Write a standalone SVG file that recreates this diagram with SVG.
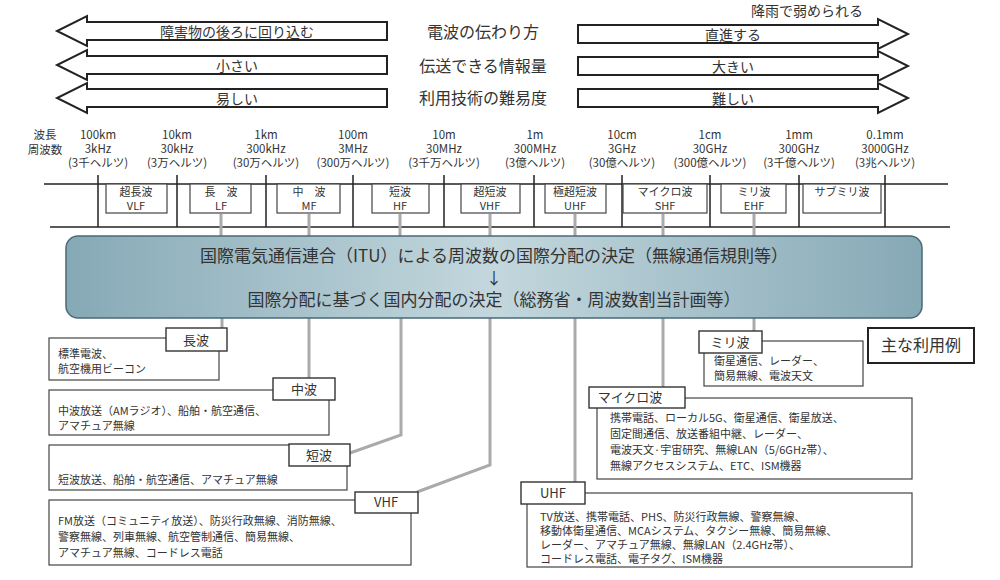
<svg xmlns="http://www.w3.org/2000/svg" width="1000" height="580" viewBox="0 0 1000 580">
<style>
text{font-family:"Noto Sans CJK JP","Noto Sans",sans-serif;fill:#333}
.arr{fill:#fff;stroke:#222;stroke-width:2}
.ah{font-size:14px;text-anchor:middle}
.ttl{font-size:16px;text-anchor:middle}
.big{font-size:17px;text-anchor:middle}
.sc{font-size:11.5px;text-anchor:middle}
.bd{fill:#fff;stroke:#444;stroke-width:1.2}
.bt{font-size:11px;text-anchor:middle}
.lb{fill:#fff;stroke:#333;stroke-width:1.4}
.lt{font-size:13px;text-anchor:middle}
.ct{font-size:11px}
.ln{stroke:#222;stroke-width:1.5;fill:none}
.gc{stroke:#aaa;stroke-width:3;fill:none}
</style>
<defs>
<linearGradient id="g" x1="0" x2="1" y1="0" y2="0">
<stop offset="0" stop-color="#86a9b6"/><stop offset="0.5" stop-color="#c3d7dd"/><stop offset="1" stop-color="#86a9b6"/>
</linearGradient>
</defs>
<g id="top-arrows">
<polygon class="arr" points="387,22 87,22 87,16 57,31 87,46 87,40 387,40"/>
<polygon class="arr" points="387,56 87,56 87,50 57,65 87,80 87,74 387,74"/>
<polygon class="arr" points="387,89 87,89 87,83 57,98 87,113 87,107 387,107"/>
<polygon class="arr" points="578,25 878,25 878,19 908,34 878,49 878,43 578,43"/>
<polygon class="arr" points="578,57 878,57 878,51 908,66 878,81 878,75 578,75"/>
<polygon class="arr" points="578,89 878,89 878,83 908,98 878,113 878,107 578,107"/>
<text class="ah" x="237" y="37">障害物の後ろに回り込む</text>
<text class="ah" x="237" y="71">小さい</text>
<text class="ah" x="237" y="104">易しい</text>
<text class="ah" x="733" y="40">直進する</text>
<text class="ah" x="733" y="72">大きい</text>
<text class="ah" x="733" y="104">難しい</text>
<text class="ah" x="807" y="16">降雨で弱められる</text>
<text class="ttl" x="483" y="38">電波の伝わり方</text>
<text class="ttl" x="483" y="72">伝送できる情報量</text>
<text class="ttl" x="483" y="104">利用技術の難易度</text>
</g>
<g id="scale">
<text class="sc" x="45" y="139">波長</text>
<text class="sc" x="45" y="154">周波数</text>
<text class="sc" x="98" y="139">100km</text><text class="sc" x="98" y="153">3kHz</text><text class="sc" x="98" y="167">(3千ヘルツ)</text>
<text class="sc" x="177" y="139">10km</text><text class="sc" x="177" y="153">30kHz</text><text class="sc" x="177" y="167">(3万ヘルツ)</text>
<text class="sc" x="266" y="139">1km</text><text class="sc" x="266" y="153">300kHz</text><text class="sc" x="266" y="167">(30万ヘルツ)</text>
<text class="sc" x="353" y="139">100m</text><text class="sc" x="353" y="153">3MHz</text><text class="sc" x="353" y="167">(300万ヘルツ)</text>
<text class="sc" x="444" y="139">10m</text><text class="sc" x="444" y="153">30MHz</text><text class="sc" x="444" y="167">(3千万ヘルツ)</text>
<text class="sc" x="535" y="139">1m</text><text class="sc" x="535" y="153">300MHz</text><text class="sc" x="535" y="167">(3億ヘルツ)</text>
<text class="sc" x="622" y="139">10cm</text><text class="sc" x="622" y="153">3GHz</text><text class="sc" x="622" y="167">(30億ヘルツ)</text>
<text class="sc" x="710" y="139">1cm</text><text class="sc" x="710" y="153">30GHz</text><text class="sc" x="710" y="167">(300億ヘルツ)</text>
<text class="sc" x="799" y="139">1mm</text><text class="sc" x="799" y="153">300GHz</text><text class="sc" x="799" y="167">(3千億ヘルツ)</text>
<text class="sc" x="885" y="139">0.1mm</text><text class="sc" x="885" y="153">3000GHz</text><text class="sc" x="885" y="167">(3兆ヘルツ)</text>
<line class="ln" x1="44" y1="184" x2="948" y2="184"/>
<line class="ln" x1="50" y1="227" x2="950" y2="227"/>
<path class="ln" d="M98 175V227M177 175V227M266 175V227M353 175V227M444 175V227M534 175V227M622 175V227M710 175V227M799 175V227M885 175V227"/>
</g>
<g id="bands">
<rect class="bd" x="106" y="184" width="61" height="29"/><text class="bt" x="136" y="196">超長波</text><text class="bt" x="136" y="210">VLF</text>
<rect class="bd" x="190" y="184" width="61" height="29"/><text class="bt" x="221" y="196">長　波</text><text class="bt" x="221" y="210">LF</text>
<rect class="bd" x="277" y="184" width="63" height="29"/><text class="bt" x="309" y="196">中　波</text><text class="bt" x="309" y="210">MF</text>
<rect class="bd" x="372" y="184" width="57" height="29"/><text class="bt" x="400" y="196">短波</text><text class="bt" x="400" y="210">HF</text>
<rect class="bd" x="461" y="184" width="59" height="29"/><text class="bt" x="490" y="196">超短波</text><text class="bt" x="490" y="210">VHF</text>
<rect class="bd" x="545" y="184" width="61" height="29"/><text class="bt" x="575" y="196">極超短波</text><text class="bt" x="575" y="210">UHF</text>
<rect class="bd" x="623" y="184" width="84" height="29"/><text class="bt" x="665" y="196">マイクロ波</text><text class="bt" x="665" y="210">SHF</text>
<rect class="bd" x="721" y="184" width="65" height="29"/><text class="bt" x="754" y="196">ミリ波</text><text class="bt" x="754" y="210">EHF</text>
<rect class="bd" x="803" y="184" width="78" height="29"/><text class="bt" x="842" y="196">サブミリ波</text>
</g>
<g id="connectors">
<path class="gc" d="M221 214V236M309 214V236M400 214V236M490 214V236M575 214V236M663 214V236M754 214V236"/>
<path class="gc" d="M222 318V328"/>
<path class="gc" d="M309 318V378"/>
<path class="gc" d="M401 318V435L350 453"/>
<path class="gc" d="M490 318V465L417 492"/>
<path class="gc" d="M575 318V482"/>
<path class="gc" d="M663 318V387"/>
<path class="gc" d="M754 318V331"/>
</g>
<g id="itu">
<rect x="66" y="236" width="856" height="82" rx="12" fill="url(#g)" stroke="#4a6a76" stroke-width="1.5"/>
<text class="big" x="494" y="262">国際電気通信連合（ITU）による周波数の国際分配の決定（無線通信規則等）</text>
<text class="ttl" x="494" y="284" font-size="12px">↓</text>
<text class="big" x="494" y="306">国際分配に基づく国内分配の決定（総務省・周波数割当計画等）</text>
</g>
<g id="lf">
<rect class="bd" x="49" y="338" width="170" height="42"/>
<rect class="lb" x="166" y="328" width="61" height="23"/><text class="lt" x="196" y="345">長波</text>
<text class="ct" x="58" y="358">標準電波、</text><text class="ct" x="58" y="373">航空機用ビーコン</text>
</g>
<g id="mf">
<rect class="bd" x="49" y="390" width="280" height="45"/>
<rect class="lb" x="273" y="378" width="62" height="22"/><text class="lt" x="304" y="394">中波</text>
<text class="ct" x="58" y="415">中波放送（AMラジオ）、船舶・航空通信、</text><text class="ct" x="58" y="430">アマチュア無線</text>
</g>
<g id="hf">
<rect class="bd" x="49" y="445" width="298" height="45"/>
<rect class="lb" x="289" y="444" width="61" height="22"/><text class="lt" x="319" y="460">短波</text>
<text class="ct" x="58" y="484">短波放送、船舶・航空通信、アマチュア無線</text>
</g>
<g id="vhf">
<rect class="bd" x="49" y="500" width="362" height="65"/>
<rect class="lb" x="355" y="492" width="63" height="21"/><text class="lt" x="386" y="507">VHF</text>
<text class="ct" x="58" y="525">FM放送（コミュニティ放送）、防災行政無線、消防無線、</text>
<text class="ct" x="58" y="541">警察無線、列車無線、航空管制通信、簡易無線、</text>
<text class="ct" x="58" y="557">アマチュア無線、コードレス電話</text>
</g>
<g id="ehf">
<rect class="bd" x="704" y="341" width="159" height="45"/>
<rect class="lb" x="699" y="331" width="63" height="22"/><text class="lt" x="730" y="347">ミリ波</text>
<text class="ct" x="714" y="365">衛星通信、レーダー、</text><text class="ct" x="714" y="380">簡易無線、電波天文</text>
</g>
<g id="legend">
<rect x="868" y="328" width="106" height="35" fill="#fff" stroke="#222" stroke-width="2"/>
<text class="ttl" x="921" y="351" font-size="15px">主な利用例</text>
</g>
<g id="shf">
<rect class="bd" x="597" y="398" width="315" height="81"/>
<rect class="lb" x="589" y="387" width="96" height="21"/><text class="lt" x="630" y="402">マイクロ波</text>
<text class="ct" x="610" y="422">携帯電話、ローカル5G、衛星通信、衛星放送、</text>
<text class="ct" x="610" y="438">固定間通信、放送番組中継、レーダー、</text>
<text class="ct" x="610" y="454">電波天文·宇宙研究、無線LAN（5/6GHz帯）、</text>
<text class="ct" x="610" y="470">無線アクセスシステム、ETC、ISM機器</text>
</g>
<g id="uhf">
<rect class="bd" x="527" y="493" width="385" height="74"/>
<rect class="lb" x="521" y="482" width="64" height="22"/><text class="lt" x="553" y="498">UHF</text>
<text class="ct" x="540" y="521">TV放送、携帯電話、PHS、防災行政無線、警察無線、</text>
<text class="ct" x="540" y="535">移動体衛星通信、MCAシステム、タクシー無線、簡易無線、</text>
<text class="ct" x="540" y="549">レーダー、アマチュア無線、無線LAN（2.4GHz帯）、</text>
<text class="ct" x="540" y="563">コードレス電話、電子タグ、ISM機器</text>
</g>
</svg>
